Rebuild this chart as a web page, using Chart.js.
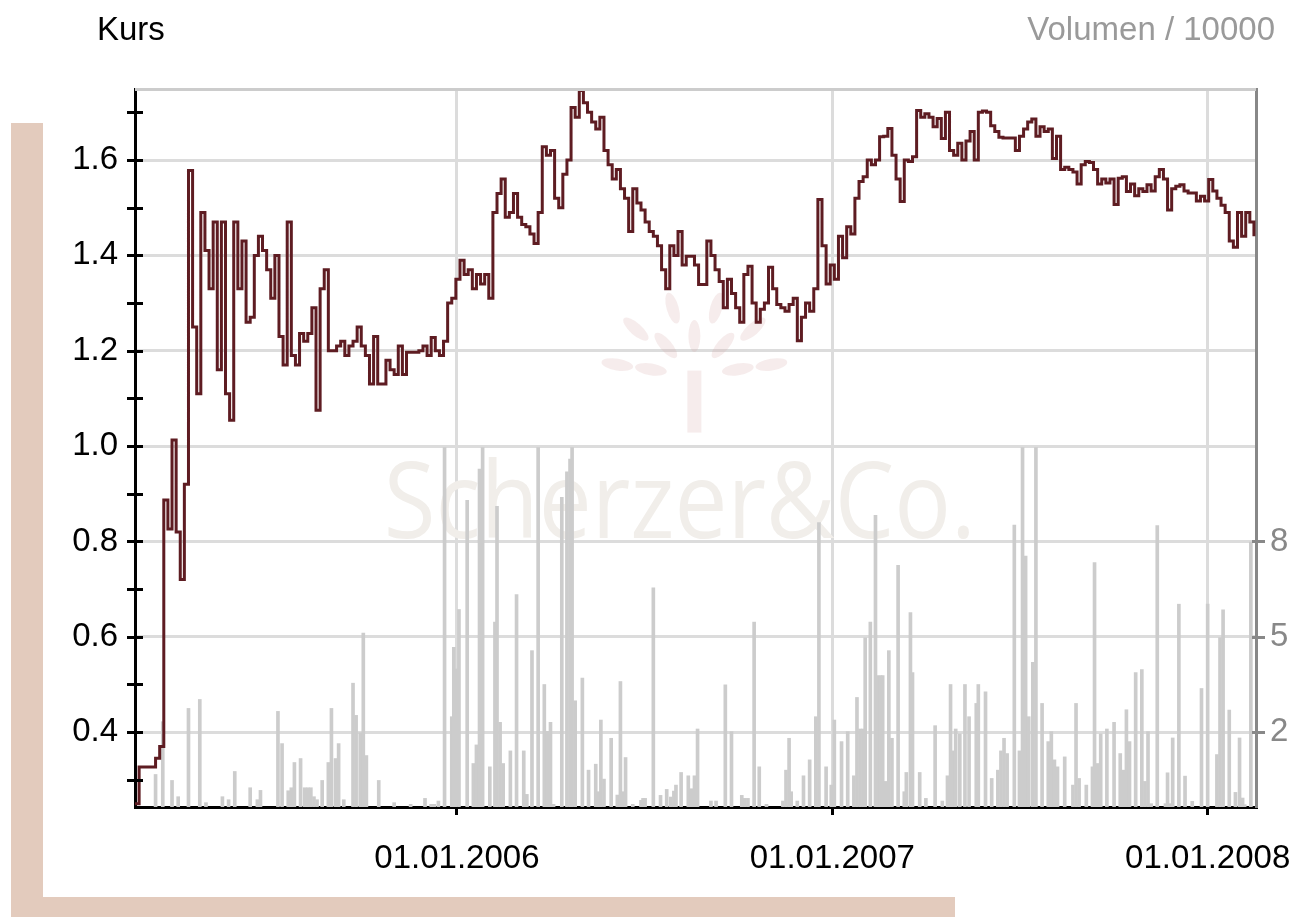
<!DOCTYPE html>
<html>
<head>
<meta charset="utf-8">
<title>Kurs / Volumen</title>
<script src="https://cdn.jsdelivr.net/npm/chart.js@4.4.1/dist/chart.umd.min.js"></script>
<style>
  html, body { margin: 0; padding: 0; background: #fff; }
  #wrap { position: relative; width: 1294px; height: 917px; }
</style>
</head>
<body>
<div id="wrap"><canvas id="chart" width="1294" height="917"></canvas></div>
<script>
// ---- data -------------------------------------------------------------
// price series, sampled every 4 days from the first day
const priceStart = "2005-02-22";
const priceStepDays = 4;
const prices = [
  0.25, 0.327, 0.327, 0.327, 0.327, 0.345, 0.37, 0.887, 0.826, 1.013, 0.82, 0.72, 0.92,
  1.578, 1.25, 1.11, 1.49, 1.41, 1.33, 1.47, 1.16,
  1.47, 1.11, 1.054, 1.47, 1.33, 1.43, 1.26, 1.27, 1.40, 1.44,
  1.41, 1.37, 1.31, 1.40, 1.23, 1.17, 1.47, 1.19, 1.17, 1.236,
  1.22, 1.236, 1.29, 1.075, 1.33, 1.37, 1.20, 1.20, 1.21, 1.22,
  1.19, 1.21, 1.22, 1.25, 1.21, 1.19, 1.13, 1.23, 1.13, 1.13,
  1.18, 1.16, 1.15, 1.21, 1.15, 1.197, 1.197, 1.197,
  1.2, 1.21, 1.19, 1.228, 1.2, 1.19, 1.22, 1.30, 1.31, 1.35,
  1.39, 1.36, 1.37, 1.33, 1.36, 1.34, 1.36, 1.31, 1.49, 1.53,
  1.56, 1.48, 1.49, 1.53, 1.48, 1.465, 1.46, 1.445, 1.425, 1.49,
  1.628, 1.61, 1.62, 1.52, 1.50, 1.57, 1.60, 1.71, 1.69, 1.746,
  1.72, 1.70, 1.68, 1.665, 1.69, 1.62, 1.59, 1.56, 1.58, 1.54,
  1.52, 1.45, 1.54, 1.51, 1.495, 1.47, 1.45, 1.44, 1.42, 1.37,
  1.33, 1.42, 1.40, 1.45, 1.38, 1.398, 1.398, 1.38,
  1.339, 1.339, 1.43, 1.40, 1.37, 1.345, 1.29, 1.35, 1.32, 1.29,
  1.26, 1.36, 1.377, 1.30, 1.26, 1.287, 1.30, 1.375, 1.33, 1.297,
  1.29, 1.283, 1.297, 1.31, 1.221, 1.27, 1.30, 1.283, 1.33, 1.517,
  1.42, 1.34, 1.38, 1.35, 1.44, 1.395, 1.46, 1.445, 1.52, 1.555,
  1.565, 1.60, 1.59, 1.60, 1.649, 1.65, 1.666, 1.61, 1.56, 1.513,
  1.60, 1.597, 1.607, 1.704, 1.69, 1.697, 1.69, 1.67, 1.687, 1.645,
  1.70, 1.62, 1.61, 1.635, 1.60, 1.64, 1.66, 1.60,
  1.70, 1.703, 1.70, 1.672, 1.66, 1.648, 1.646, 1.646, 1.646, 1.62,
  1.65, 1.665, 1.68, 1.686, 1.65, 1.67, 1.66, 1.665, 1.603, 1.65,
  1.58, 1.585, 1.58, 1.575, 1.55, 1.59, 1.597, 1.595, 1.58, 1.55,
  1.56, 1.552, 1.56, 1.507, 1.562, 1.565, 1.534, 1.55, 1.525, 1.54,
  1.534, 1.548, 1.535, 1.565, 1.58, 1.56, 1.495, 1.54, 1.545, 1.548,
  1.535, 1.531, 1.531, 1.514, 1.524, 1.514, 1.559, 1.535, 1.52, 1.505,
  1.49, 1.43, 1.417, 1.49, 1.44, 1.49, 1.47, 1.44
];

// volume (/10000): trading day as days after priceStart, and amount
const volDays = [
  20, 27, 36, 42, 52, 63, 69, 85, 91, 97,
  112, 119, 122, 139, 143, 149, 152, 155, 161, 165,
  168, 171, 174, 177, 182, 188, 191, 195, 198, 203,
  212, 215, 219, 222, 225, 237, 252, 268, 282, 288,
  291, 295, 301, 308, 310, 312, 315, 323, 329, 332,
  335, 338, 345, 350, 352, 355, 358, 365, 371, 378,
  381, 386, 392, 398, 401, 404, 407, 415, 420, 423,
  425, 428, 435, 441, 448, 451, 453, 456, 463, 469,
  472, 474, 477, 484, 492, 494, 496, 504, 511, 517,
  521, 524, 526, 531, 538, 541, 544, 547, 560, 565,
  574, 580, 590, 593, 596, 602, 607, 614, 630, 633,
  636, 638, 644, 650, 656, 662, 665, 672, 677, 680,
  687, 693, 699, 702, 705, 708, 710, 715, 720, 722,
  725, 727, 730, 733, 736, 742, 748, 750, 754, 756,
  763, 769, 778, 785, 790, 793, 796, 798, 802, 807,
  811, 818, 820, 827, 833, 839, 842, 845, 848, 855,
  860, 863, 866, 869, 873, 876, 882, 888, 891, 894,
  897, 904, 912, 915, 918, 925, 931, 933, 936, 939,
  945, 952, 958, 961, 964, 967, 973, 979, 982, 985,
  988, 994, 1002, 1004, 1006, 1009, 1015, 1021, 1028, 1037,
  1043, 1052, 1055, 1058, 1064, 1070, 1074, 1077, 1079, 1085
];
const volumes = [
  0.98, 2.57, 0.8, 0.31, 2.97, 3.24, 0.13, 0.31, 0.22, 1.07,
  0.58, 0.22, 0.5, 2.88, 1.91, 0.49, 0.58, 1.34, 1.46, 0.58,
  0.58, 0.58, 0.31, 0.22, 0.8, 1.34, 2.97, 1.46, 1.91, 0.22,
  3.73, 2.76, 2.24, 5.24, 1.55, 0.8, 0.13, 0.08, 0.26, 0.08,
  0.08, 0.18, 10.83, 2.72, 4.81, 4.16, 5.95, 9.24, 1.31, 1.87,
  10.18, 10.83, 1.21, 5.57, 9.06, 2.55, 1.31, 1.69, 6.4, 1.69,
  0.38, 4.71, 10.83, 3.69, 2.28, 2.55, 0.08, 9.33, 10.1, 10.48,
  10.83, 3.2, 3.88, 1.11, 1.29, 0.46, 2.62, 0.84, 2.07, 0.36,
  3.78, 0.46, 1.49, 0.08, 0.2, 0.26, 0.26, 6.6, 0.35, 0.53,
  0.3, 0.48, 0.66, 1.04, 0.94, 0.55, 0.94, 2.35, 0.18, 0.18,
  3.68, 2.27, 0.35, 0.26, 0.26, 5.57, 1.21, 0.08, 0.18, 1.11,
  2.07, 0.46, 0.18, 0.94, 1.42, 2.72, 8.57, 1.21, 0.66, 2.62,
  1.97, 2.27, 0.94, 3.3, 2.35, 2.35, 5.1, 5.57, 8.79, 3.96,
  3.96, 3.96, 0.77, 4.71, 2.07, 7.28, 0.46, 1.04, 5.86, 4.05,
  1.04, 0.26, 2.45, 0.18, 0.94, 3.69, 1.69, 2.35, 2.2, 3.69,
  2.72, 3.12, 3.69, 3.47, 0.86, 1.11, 1.69, 2.07, 1.61, 8.49,
  1.69, 10.83, 7.56, 2.72, 4.36, 10.83, 3.12, 1.97, 2.27, 1.42,
  1.21, 1.51, 0.66, 3.12, 0.86, 0.66, 1.21, 7.36, 1.31, 2.2,
  2.35, 2.55, 1.61, 1.11, 2.93, 1.97, 4.05, 4.14, 0.77, 2.27,
  0.1, 8.48, 0.1, 1.03, 0.1, 2.08, 6.11, 0.93, 0.17, 3.57,
  6.11, 1.58, 5.1, 5.94, 2.92, 0.44, 2.08, 0.27, 0.07, 7.98
];

// axes
const axisEnd = "2008-02-17";
const xTickDates = ["2006-01-01", "2007-01-01", "2008-01-01"];
const xTickLabels = ["01.01.2006", "01.01.2007", "01.01.2008"];
const priceMin = 0.243;
const priceMax = 1.749;
const priceTicks = [0.3, 0.4, 0.5, 0.6, 0.7, 0.8, 0.9, 1.0, 1.1, 1.2, 1.3, 1.4, 1.5, 1.6, 1.7];
const priceLabelled = [0.4, 0.6, 0.8, 1.0, 1.2, 1.4, 1.6];
const volMax = 21.63;
const volTicks = [2.256, 5.127, 8.0];
const volTickLabels = ["2", "5", "8"];

// ---- helpers ----------------------------------------------------------
function dayNum(s) {
  const [y, m, d] = s.split("-").map(Number);
  return Date.UTC(y, m - 1, d) / 86400000;
}
const startDay = dayNum(priceStart);
const isLabelled = (v) => priceLabelled.some((l) => Math.abs(l - v) < 1e-6);

const FONT = '"Liberation Sans", Arial, sans-serif';
Chart.defaults.font.family = FONT;

// background bands, titles, watermark, frame and tick marks
const decor = {
  id: "decor",
  beforeDraw(chart) {
    const ctx = chart.ctx;
    ctx.save();
    ctx.fillStyle = "#fff";
    ctx.fillRect(0, 0, chart.width, chart.height);
    ctx.fillStyle = "#e3cbbd";
    ctx.fillRect(11, 123, 32, chart.height - 123);
    ctx.fillRect(11, 897, 944, 20);
    ctx.font = "33px " + FONT;
    ctx.textBaseline = "alphabetic";
    ctx.fillStyle = "#000";
    ctx.textAlign = "left";
    ctx.fillText("Kurs", 97, 40);
    ctx.fillStyle = "#9a9a9a";
    ctx.textAlign = "right";
    ctx.fillText("Volumen / 10000", 1275, 40);
    ctx.restore();
  },
  beforeDatasetsDraw(chart) {
    const ctx = chart.ctx;
    const a = chart.chartArea;
    ctx.save();
    // tree logo
    const cx = a.left + a.width * 0.499, cy = a.top + a.height * 0.42;
    ctx.fillStyle = "rgba(214, 170, 170, 0.22)";
    ctx.fillRect(cx - 7, cy - 20, 14, 62);
    [[44, 5], [78, 6]].forEach(([r, n]) => {
      for (let k = 0; k < n; k++) {
        const ang = Math.PI * (-0.95 + (0.9 * k) / (n - 1));
        ctx.save();
        ctx.translate(cx + Math.cos(ang) * r, cy - 15 + Math.sin(ang) * r * 0.9);
        ctx.rotate(ang);
        ctx.beginPath();
        ctx.ellipse(0, 0, 16, 6, 0, 0, Math.PI * 2);
        ctx.fill();
        ctx.restore();
      }
    });
    // text watermark
    ctx.fillStyle = "#f1eeea";
    ctx.font = '107px "Open Sans", "Noto Sans", sans-serif';
    ctx.textBaseline = "alphabetic";
    ctx.textAlign = "left";
    const txt = "Scherzer&Co.";
    const w = ctx.measureText(txt).width;
    const tw = a.width * 0.528;
    ctx.translate(a.left + a.width * 0.222, a.top + a.height * 0.625);
    ctx.scale(tw / w, 1);
    ctx.fillText(txt, 0, 0);
    ctx.restore();
  },
  afterDatasetsDraw(chart) {
    const ctx = chart.ctx;
    const a = chart.chartArea;
    const ys = chart.scales.y, y2 = chart.scales.y2;
    ctx.save();
    ctx.lineCap = "butt";
    ctx.strokeStyle = "#cccccc";
    ctx.lineWidth = 3;
    ctx.beginPath();
    ctx.moveTo(a.left, a.top + 0.5);
    ctx.lineTo(a.right, a.top + 0.5);
    ctx.stroke();
    ctx.strokeStyle = "#000";
    ctx.lineWidth = 3;
    priceTicks.forEach((v) => {
      const y = Math.round(ys.getPixelForValue(v)) + 0.5;
      ctx.beginPath();
      ctx.moveTo(a.left - 8, y);
      ctx.lineTo(a.left + 8, y);
      ctx.stroke();
    });
    ctx.strokeStyle = "#888";
    volTicks.forEach((v) => {
      const y = Math.round(y2.getPixelForValue(v)) + 0.5;
      ctx.beginPath();
      ctx.moveTo(a.right - 4, y);
      ctx.lineTo(a.right + 9, y);
      ctx.stroke();
    });
    ctx.restore();
  }
};

new Chart(document.getElementById("chart"), {
  type: "line",
  data: {
    datasets: [
      {
        type: "line",
        label: "Kurs",
        data: prices.map((p, i) => ({ x: startDay + i * priceStepDays, y: p })),
        borderColor: "#5e1c22",
        borderWidth: 3,
        pointRadius: 0,
        stepped: true,
        fill: false,
        yAxisID: "y",
        order: 1
      },
      {
        type: "bar",
        label: "Volumen",
        data: volDays.map((d, i) => ({ x: startDay + d, y: volumes[i] })),
        backgroundColor: "#cccccc",
        barThickness: 3,
        yAxisID: "y2",
        order: 2
      }
    ]
  },
  options: {
    responsive: false,
    animation: false,
    events: [],
    layout: { padding: { top: 89, left: 0, right: 0, bottom: 0 } },
    plugins: { legend: { display: false }, tooltip: { enabled: false } },
    scales: {
      x: {
        type: "linear",
        offset: false,
        min: startDay,
        max: dayNum(axisEnd),
        afterBuildTicks: (s) => { s.ticks = xTickDates.map((d) => ({ value: dayNum(d) })); },
        afterFit: (s) => { s.height = 110; s.paddingLeft = 0; s.paddingRight = 0; },
        grid: { offset: false, color: "#dcdcdc", lineWidth: 3, tickColor: "#000", tickWidth: 3, tickLength: 8 },
        border: { color: "#000", width: 3 },
        ticks: {
          autoSkip: false, maxRotation: 0, padding: 24,
          color: "#000", font: { size: 33 },
          callback: (v, i) => xTickLabels[i]
        }
      },
      y: {
        position: "left",
        min: priceMin,
        max: priceMax,
        afterBuildTicks: (s) => { s.ticks = priceTicks.map((v) => ({ value: v })); },
        afterFit: (s) => { s.width = 135; s.paddingTop = 0; s.paddingBottom = 0; },
        grid: {
          drawTicks: false, lineWidth: 3,
          color: (c) => (c.tick && isLabelled(c.tick.value) ? "#dcdcdc" : "rgba(0,0,0,0)")
        },
        border: { color: "#000", width: 3 },
        ticks: {
          autoSkip: false, padding: 17, color: "#000", font: { size: 33 },
          callback: (v) => (isLabelled(v) ? v.toFixed(1) : "")
        }
      },
      y2: {
        position: "right",
        min: 0,
        max: volMax,
        afterBuildTicks: (s) => { s.ticks = volTicks.map((v) => ({ value: v })); },
        afterFit: (s) => { s.width = 38; s.paddingTop = 0; s.paddingBottom = 0; },
        grid: { display: false, drawTicks: false },
        border: { display: true, color: "#888", width: 3 },
        ticks: {
          autoSkip: false, padding: 14, color: "#888", font: { size: 33 },
          callback: (v, i) => volTickLabels[i]
        }
      }
    }
  },
  plugins: [decor]
});
</script>
</body>
</html>
